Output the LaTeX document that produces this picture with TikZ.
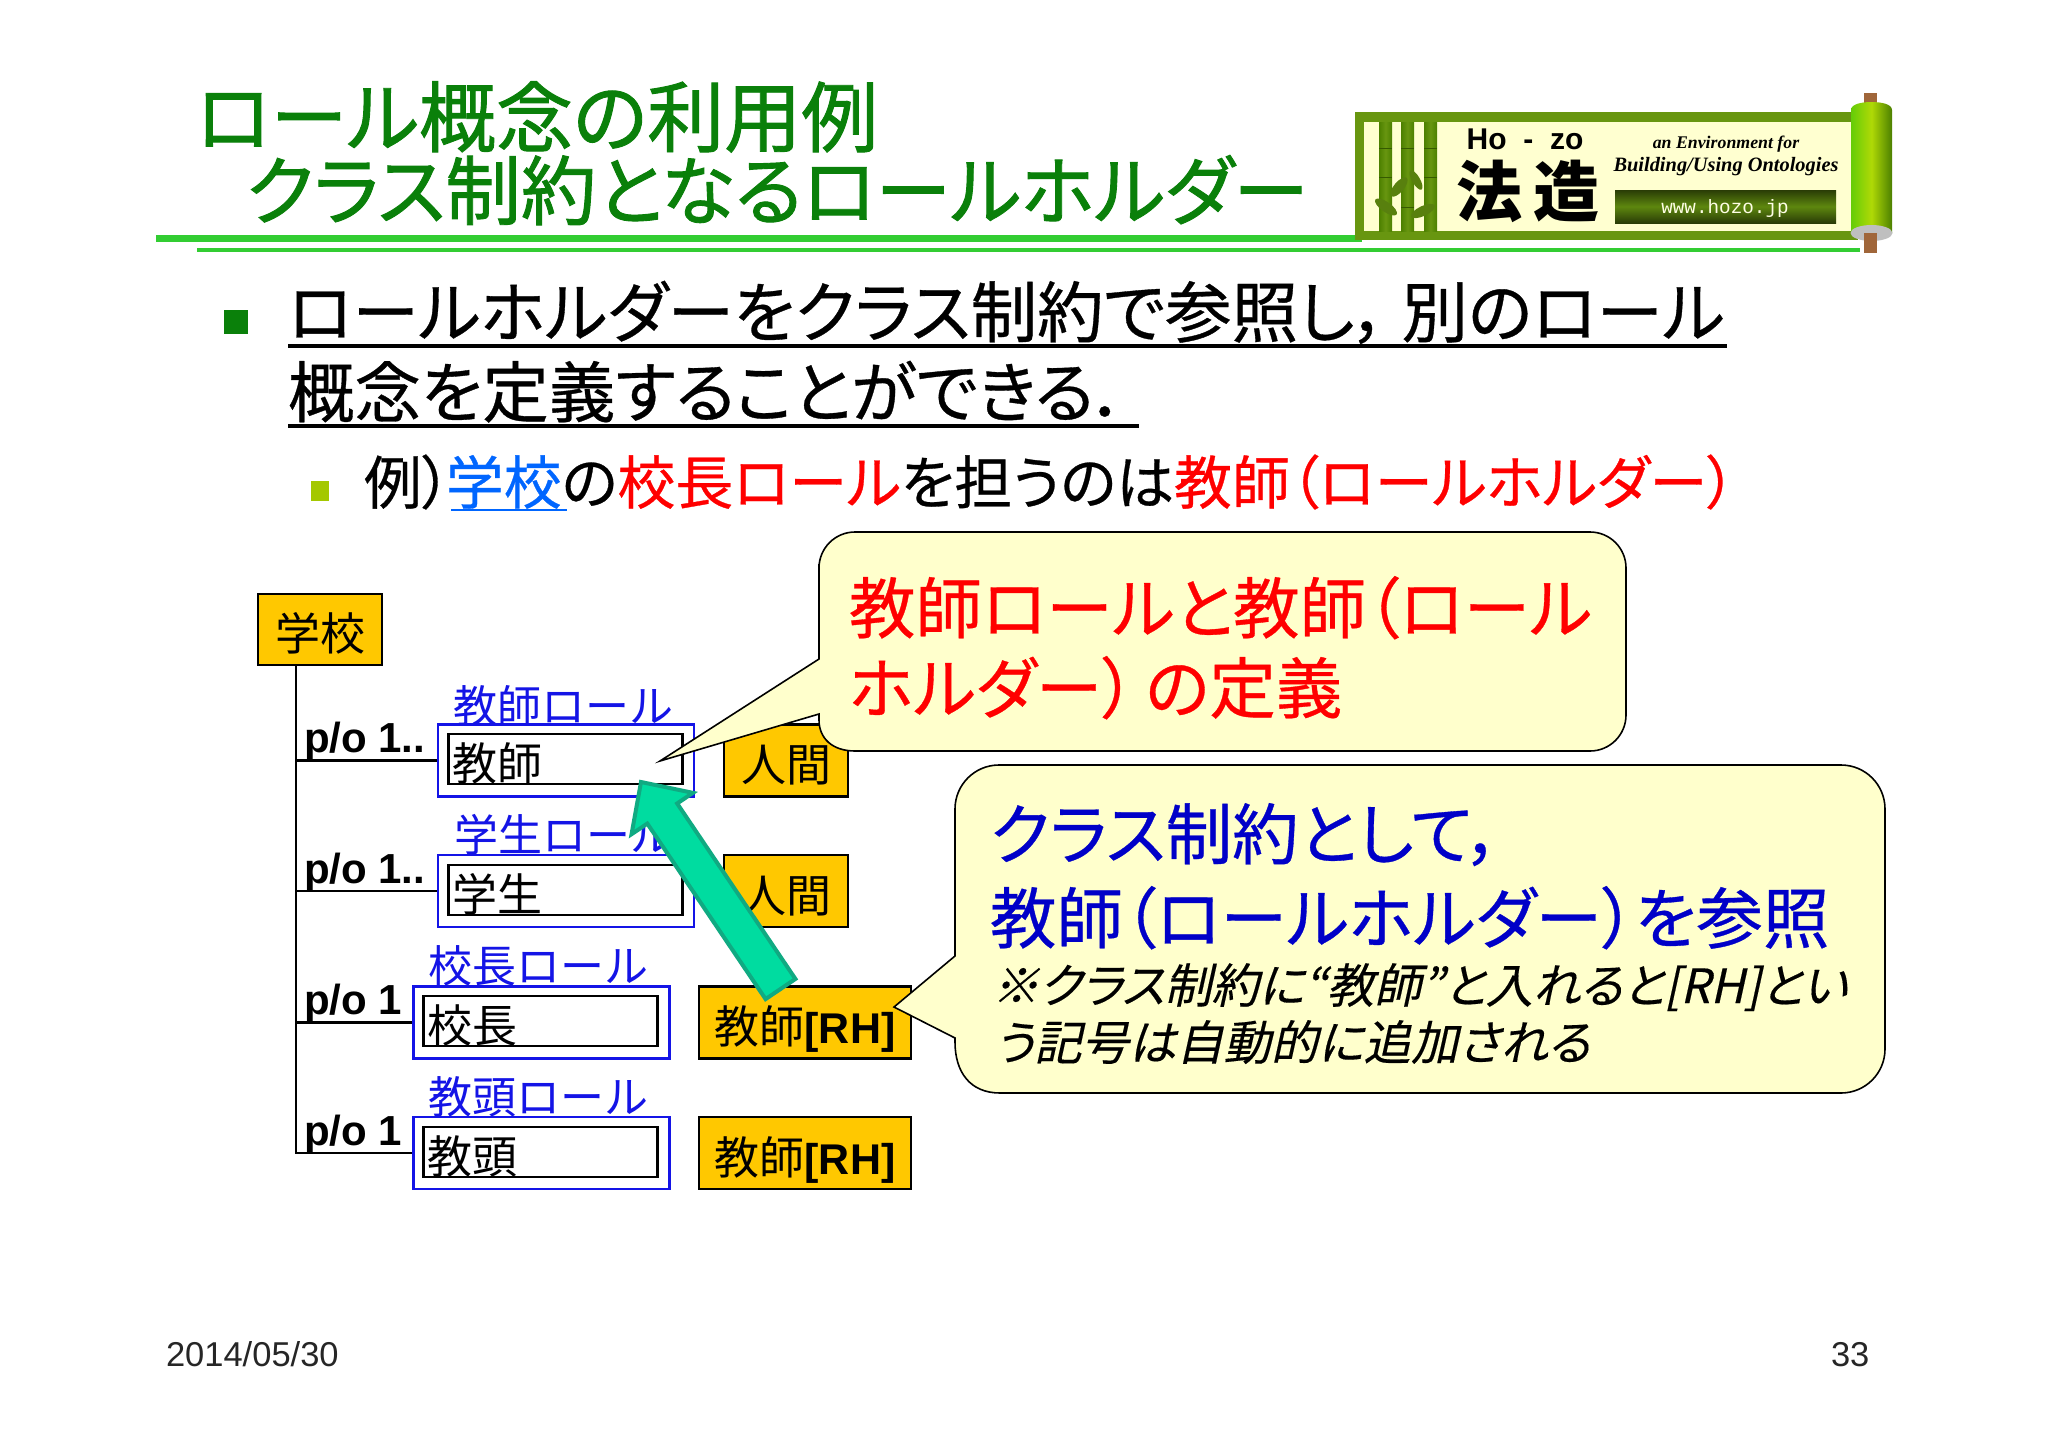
\documentclass[tikz,border=0pt]{standalone}
\usepackage{fontspec}
\usetikzlibrary{calc}
\setmainfont{Noto Sans CJK JP}[RawFeature={+palt},FakeBold=0.5]
\newfontfamily\jptitle{Noto Sans CJK JP}[RawFeature={+palt},FakeBold=1.2]
\newfontfamily\jpmono{Noto Sans CJK JP}
\newfontfamily\jpslant{Noto Sans CJK JP}[RawFeature={+palt},FakeSlant=0.22,FakeBold=0.3]
\newfontfamily\arialfont{Liberation Sans}
\newfontfamily\timesfont{Liberation Serif}
\newfontfamily\courierfont{Liberation Mono}
\definecolor{titlegreen}{RGB}{10,128,10}
\definecolor{linegreen}{RGB}{50,205,50}
\definecolor{framegreen}{RGB}{104,150,16}
\definecolor{bamboodark}{RGB}{76,128,0}
\definecolor{scrollyellow}{RGB}{255,255,208}
\definecolor{callyellow}{RGB}{255,255,204}
\definecolor{classorange}{RGB}{255,200,0}
\definecolor{roleblue}{RGB}{20,20,230}
\definecolor{linkblue}{RGB}{0,102,255}
\definecolor{calloutblue}{RGB}{0,0,200}
\definecolor{arrowfill}{RGB}{0,220,160}
\definecolor{arrowedge}{RGB}{16,170,130}
\definecolor{knobbrown}{RGB}{160,102,58}
\definecolor{subbullet}{RGB}{164,200,0}
\tikzset{
  txt/.style={anchor=base west,inner sep=0pt,outer sep=0pt},
  titletxt/.style={txt,text=titlegreen,font=\jptitle\fontsize{76}{76}\selectfont},
  bodytxt/.style={txt,font=\fontsize{66.5}{67}\selectfont},
  subtxt/.style={txt,font=\fontsize{57.9}{58}\selectfont},
  redtxt/.style={txt,text=red,font=\fontsize{66.5}{67}\selectfont},
  bluetxt/.style={txt,text=calloutblue,font=\fontsize{66.5}{67}\selectfont},
  notetxt/.style={txt,font=\jpslant\fontsize{47.3}{47}\selectfont},
  rolelabel/.style={txt,text=roleblue,font=\jpmono\fontsize{44}{44}\selectfont},
  polabel/.style={txt,font=\arialfont\bfseries\fontsize{42}{42}\selectfont},
  classbox/.style={draw=black,line width=2.2pt,fill=classorange,inner sep=0pt,text height=46pt,text depth=4pt,font=\jpmono\fontsize{45}{45}\selectfont},
  roleouter/.style={draw=roleblue,line width=2.2pt,fill=white,minimum width=256pt,minimum height=72pt,inner sep=0pt},
  roleinner/.style={draw=black,line width=2.6pt,fill=white,minimum height=50pt,text width=226pt,align=left,inner xsep=4pt,inner ysep=0pt,text height=46pt,text depth=4pt,font=\jpmono\fontsize{45}{45}\selectfont},
  treeline/.style={black,line width=2.2pt},
  calloutbox/.style={draw=black,line width=1.6pt,fill=callyellow},
  greenline/.style={linegreen},
  bamboo/.style={left color=bamboodark,right color=bamboodark,middle color=framegreen},
  joint/.style={bamboodark!70!black,thick},
  leaf/.style={fill=framegreen!85!black},
  logotxt/.style={inner sep=0pt},
}
\begin{document}
\begin{tikzpicture}[x=1pt,y=-1pt]
\fill[white] (0,0) rectangle (2048,1448);
\useasboundingbox (0,0) rectangle (2048,1448);

% title
\node[titletxt,font=\jptitle\fontsize{77}{77}\selectfont] (title1) at (196,146) {ロール概念の利用例};
\node[titletxt,font=\jptitle\fontsize{75.5}{76}\selectfont] (title2) at (246,219) {クラス制約となるロールホルダー};
\fill[greenline] (156,235) rectangle (1362,242);
\fill[greenline] (197,248) rectangle (1860,252);

% logo
\fill[framegreen] (1355,112) rectangle (1858,240);
\fill[scrollyellow] (1364,122) rectangle (1856,231);
\shade[bamboo] (1379,122) rectangle (1392,231);
\shade[bamboo] (1401,122) rectangle (1414,231);
\shade[bamboo] (1424,122) rectangle (1437,231);
\draw[joint] (1379,148) -- (1392,148);
\draw[joint] (1379,177) -- (1392,177);
\draw[joint] (1401,148) -- (1414,148);
\draw[joint] (1401,207) -- (1414,207);
\draw[joint] (1424,148) -- (1437,148);
\draw[joint] (1424,177) -- (1437,177);
\fill[leaf,rotate around={50:(1399,187)}] (1399,187) ellipse (12 and 5);
\fill[leaf,rotate around={-60:(1416,180)}] (1416,180) ellipse (11 and 4);
\fill[leaf,rotate around={-35:(1386,207)}] (1386,207) ellipse (13 and 5);
\fill[leaf,rotate around={25:(1423,211)}] (1423,211) ellipse (13 and 5);
\node[logotxt,font=\arialfont\bfseries\fontsize{30}{30}\selectfont] (hozolatin) at (1525,139) {Ho\ \ -\ \ zo};
\node[logotxt,font=\jpmono\bfseries\fontsize{66}{66}\selectfont] (hozokanji) at (1528,191) {法\hspace{12pt}造};
\node[logotxt,font=\timesfont\bfseries\itshape\fontsize{17.8}{18}\selectfont] (logoline1) at (1726,144) {an Environment for};
\node[logotxt,font=\timesfont\bfseries\itshape\fontsize{20.4}{20}\selectfont] (logoline2) at (1726,167) {Building/Using Ontologies};
\shade[top color=framegreen!40!black,bottom color=framegreen!40!black,middle color=framegreen!90!black] (1615,190) rectangle (1836,223);
\node[logotxt,text=white!90!yellow,font=\courierfont\fontsize{19.3}{19}\selectfont] (logourl) at (1725,209) {www.hozo.jp};
\fill[knobbrown] (1864,93) rectangle (1877,106);
\shade[left color=framegreen!60!green!80!yellow,right color=bamboodark,middle color=framegreen!40!yellow!90!green] (1851,110) .. controls (1851,104) and (1862,102) .. (1871.5,102) .. controls (1881,102) and (1892,104) .. (1892,110) -- (1892,233) -- (1851,233) -- cycle;
\fill[gray!50] (1871.5,233) ellipse (21 and 8);
\fill[knobbrown] (1864,233) rectangle (1877,253);

% text
\fill[titlegreen] (224,310) rectangle (248,334);
\node[bodytxt] (body1) at (288,337) {ロールホルダーをクラス制約で参照し，\hspace{14pt}別のロール};
\node[bodytxt] (body2) at (288,417) {概念を定義することができる．};
\draw[black,line width=3.5pt] (288,346) -- (1727,346);
\draw[black,line width=3.5pt] (288,426) -- (1139,426);
\fill[subbullet] (311,481) rectangle (329,501);
\node[subtxt] (sub1) at (364,504) {例）\hspace{-5pt}\textcolor{linkblue}{学校}の\textcolor{red}{校長ロール}を担うのは\textcolor{red}{教師（ロールホルダー）}};
\draw[linkblue,line width=2.5pt] (451,510) -- (567,510);

% class tree
\node[classbox,minimum width=124pt,minimum height=71pt] (school) at (320,629.5) {学校};
\coordinate (trunk) at (296,665);

\node[roleouter] (teacherouter) at (566,760.5) {};
\node[roleinner] (teacherinner) at (565.5,759) {教師};
\node[rolelabel] (teacherrole) at (453,722) {教師ロール};
\node[polabel] (po1) at (304,752) {p/o 1..};
\node[classbox,minimum width=124pt,minimum height=72pt] (human1) at (786,760.5) {人間};

\node[roleouter] (studentouter) at (566,891) {};
\node[roleinner] (studentinner) at (565.5,890) {学生};
\node[rolelabel] (studentrole) at (454,851) {学生ロール};
\node[polabel] (po2) at (304,883) {p/o 1..};
\node[classbox,minimum width=124pt,minimum height=72pt] (human2) at (786,891) {人間};

\node[roleouter] (principalouter) at (541.5,1022.5) {};
\node[roleinner] (principalinner) at (540.5,1021) {校長};
\node[rolelabel] (principalrole) at (428,982) {校長ロール};
\node[polabel] (po3) at (304,1014) {p/o 1};
\node[classbox,minimum width=212pt,minimum height=72pt] (rh1) at (805,1022.5) {教師{\arialfont\bfseries\fontsize{43}{43}\selectfont [RH]}};

\node[roleouter] (viceouter) at (541.5,1153) {};
\node[roleinner] (viceinner) at (540.5,1152) {教頭};
\node[rolelabel] (vicerole) at (428,1113) {教頭ロール};
\node[polabel] (po4) at (304,1145) {p/o 1};
\node[classbox,minimum width=212pt,minimum height=72pt] (rh2) at (805,1153) {教師{\arialfont\bfseries\fontsize{43}{43}\selectfont [RH]}};

\draw[treeline] (trunk) -- (trunk |- viceouter.west) -- (viceouter.west);
\draw[treeline] (trunk |- teacherouter.west) -- (teacherouter.west);
\draw[treeline] (trunk |- studentouter.west) -- (studentouter.west);
\draw[treeline] (trunk |- principalouter.west) -- (principalouter.west);

% callouts
\draw[calloutbox] (660,761) -- (819,714) -- (819,720) .. controls (819,738) and (832,751) .. (855,751) [rounded corners=36pt] -- (1626,751) -- (1626,532) -- (819,532) -- (819,600) [sharp corners] -- (819,659) -- cycle;
\node[redtxt] (call1a) at (849,633) {教師ロールと教師（ロール};
\node[redtxt] (call1b) at (849,713) {ホルダー）\hspace{10pt}の定義};

\draw[calloutbox] (894,1007) -- (955,1038) -- (955,1042) .. controls (955,1072) and (970,1093) .. (1000,1093) [rounded corners=44pt] -- (1885,1093) -- (1885,765) -- (955,765) -- (955,860) [sharp corners] -- (955,956) -- cycle;
\node[bluetxt] (call2a) at (990,859) {クラス制約として，};
\node[bluetxt] (call2b) at (990,943) {教師（ロールホルダー）を参照};
\node[notetxt] (note1) at (992,1003) {※クラス制約に“教師”と入れると[RH]とい};
\node[notetxt] (note2) at (995,1060) {う記号は自動的に追加される};

% reference arrow
\coordinate (arrowtail) at (780.5,989);
\coordinate (arrowtip) at (641,782);
\draw[draw=arrowedge,fill=arrowfill,line width=4pt,line join=miter]
  ($(arrowtail)!18pt!90:(arrowtip)$)
  -- ($(arrowtip)!38pt!(arrowtail)!18pt!-90:(arrowtail)$)
  -- ($(arrowtip)!38pt!(arrowtail)!37pt!-90:(arrowtail)$)
  -- (arrowtip)
  -- ($(arrowtip)!38pt!(arrowtail)!37pt!90:(arrowtail)$)
  -- ($(arrowtip)!38pt!(arrowtail)!18pt!90:(arrowtail)$)
  -- ($(arrowtail)!18pt!-90:(arrowtip)$) -- cycle;

% footer
\node[txt,text=black!85,font=\arialfont\fontsize{34.5}{35}\selectfont] (date) at (166,1366) {2014/05/30};
\node[txt,text=black!85,font=\arialfont\fontsize{34.5}{35}\selectfont] (pageno) at (1831,1366) {33};
\end{tikzpicture}
\end{document}
